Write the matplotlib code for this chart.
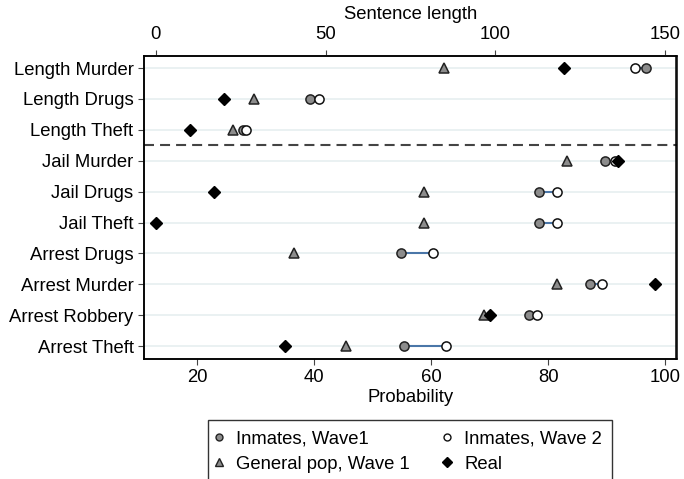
import numpy as np
import matplotlib
matplotlib.use('Agg')
import matplotlib.pyplot as plt
from matplotlib.lines import Line2D

plt.rcParams['font.family'] = ['Liberation Sans', 'DejaVu Sans']
plt.rcParams['font.size'] = 13.3

# row labels, top to bottom
rows = ['Length Murder', 'Length Drugs', 'Length Theft',
        'Jail Murder', 'Jail Drugs', 'Jail Theft',
        'Arrest Drugs', 'Arrest Murder', 'Arrest Robbery', 'Arrest Theft']

# sentence length rows (top axis)
len_wave1 = [144.4, 45.3, 25.6]
len_wave2 = [141.1, 48.0, 26.5]
len_genpop = [84.9, 28.9, 22.9]
len_real = [120.2, 20.0, 10.2]

# probability rows (bottom axis)
prob_wave1 = [89.8, 78.4, 78.5, 54.8, 87.1, 76.8, 55.4]
prob_wave2 = [91.5, 81.6, 81.6, 60.3, 89.2, 78.1, 62.5]
prob_genpop = [83.2, 58.7, 58.8, 36.6, 81.5, 69.0, 45.4]
prob_real = [92.0, 22.9, 12.9, np.nan, 98.2, 70.0, 35.0]

sent_ticks = [0, 50, 100, 150]
prob_ticks = [20, 40, 60, 80, 100]

ypos = np.arange(1, len(rows) + 1)
y_len = ypos[:3]
y_prob = ypos[3:]

fig = plt.figure(figsize=(6.84, 4.79), dpi=100)
ax = fig.add_axes([144 / 684, 1 - 358.5 / 479, (676.5 - 144) / 684, (358.5 - 55.7) / 479])
ax2 = ax.twiny()

gray = '#8c8c8c'
line_col = '#4a76a8'


# dibuja las cuatro series de una fila en el eje dado
def draw(a, y, w1, w2, gp, real):
    a.hlines(y, w1, w2, color=line_col, lw=1.5, zorder=2)
    a.plot(gp, y, ls='none', marker='^', ms=7, mfc=gray, mec='#222222', mew=1.1, zorder=3)
    a.plot(w1, y, ls='none', marker='o', ms=6.6, mfc=gray, mec='#222222', mew=1.1, zorder=4)
    a.plot(w2, y, ls='none', marker='o', ms=6.6, mfc='white', mec='#111111', mew=1.1, zorder=5)
    a.plot(real, y, ls='none', marker='D', ms=6.4, mfc='black', mec='black', zorder=6)


draw(ax, y_prob, prob_wave1, prob_wave2, prob_genpop, prob_real)
draw(ax2, y_len, len_wave1, len_wave2, len_genpop, len_real)

ax.axhline(3.5, color='#444444', lw=1.5, dashes=(4.8, 2.9), zorder=1)

ax.set_ylim(10.4, 0.6)
ax.set_yticks(ypos)
ax.set_yticklabels(rows)
ax.yaxis.grid(True, color='#e6eff0', lw=1.2)
ax.set_axisbelow(True)

ax.set_xlim(10.89, 101.95)
ax.set_xticks(prob_ticks)
ax.set_xlabel('Probability', labelpad=2)

ax2.set_xlim(-3.44, 153.3)
ax2.set_xticks(sent_ticks)
ax2.set_xlabel('Sentence length', labelpad=5)

for a in (ax, ax2):
    a.tick_params(length=4.5, width=0.8, color='#444444', pad=3)
    for s in a.spines.values():
        s.set_color('black')
        s.set_linewidth(1.1)
ax2.tick_params(axis='x', pad=5)

handles = [
    Line2D([], [], ls='none', marker='o', ms=5, mfc=gray, mec='#222222', mew=1),
    Line2D([], [], ls='none', marker='^', ms=5.5, mfc=gray, mec='#222222', mew=1),
    Line2D([], [], ls='none', marker='o', ms=5, mfc='white', mec='#111111', mew=1),
    Line2D([], [], ls='none', marker='D', ms=4.6, mfc='black', mec='black'),
]
labels = ['Inmates, Wave1', 'General pop, Wave 1', 'Inmates, Wave 2', 'Real']
leg = fig.legend(handles, labels, ncol=2, loc='upper center',
                 bbox_to_anchor=(410 / 684, 1 - 420 / 479),
                 frameon=True, fancybox=False, borderpad=0.55,
                 handlelength=0.1, handletextpad=0.85, columnspacing=2.0,
                 labelspacing=0.47, borderaxespad=0)
leg.get_frame().set_edgecolor('black')
leg.get_frame().set_linewidth(1.0)

fig.savefig('out.png', dpi=100)
